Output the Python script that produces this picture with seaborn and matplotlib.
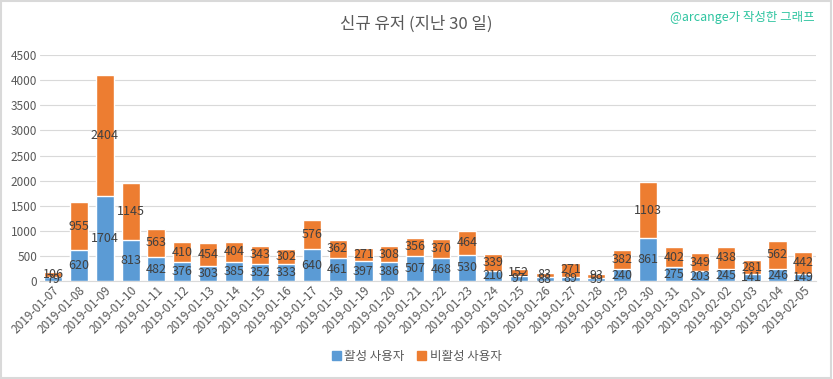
import pandas as pd
import numpy as np
import matplotlib
matplotlib.use("Agg")
import matplotlib.pyplot as plt
import seaborn as sns
from matplotlib.patches import Patch

dates = pd.date_range("2019-01-07", "2019-02-05").strftime("%Y-%m-%d").tolist()
active = [79, 620, 1704, 813, 482, 376, 303, 385, 352, 333, 640, 461, 397, 386, 507,
          468, 530, 210, 97, 88, 89, 59, 240, 861, 275, 203, 245, 141, 246, 149]
inactive = [106, 955, 2404, 1145, 563, 410, 454, 404, 343, 302, 576, 362, 271, 308, 356,
            370, 464, 339, 152, 83, 271, 93, 382, 1103, 402, 349, 438, 281, 562, 442]

BLUE = "#5B9BD5"
ORANGE = "#ED7D31"
TXT = "#404040"


def main():
    sns.set_style("white")
    plt.rcParams['font.family'] = ['Noto Sans CJK KR', 'DejaVu Sans']

    df = pd.DataFrame({'date': dates, 'active': active, 'inactive': inactive})
    df['total'] = df['active'] + df['inactive']

    fig = plt.figure(figsize=(8.33, 3.79), dpi=100)
    ax = fig.add_axes([0.048, 0.258, 0.932, 0.597])

    sns.barplot(data=df, x='date', y='total', color=ORANGE, width=0.7,
                saturation=1, ax=ax, zorder=2)
    sns.barplot(data=df, x='date', y='active', color=BLUE, width=0.7,
                saturation=1, ax=ax, zorder=3)

    for i, (a, b) in enumerate(zip(active, inactive)):
        ax.text(i, a / 2, str(a), ha='center', va='center', fontsize=9, color=TXT, zorder=4)
        ax.text(i, a + b / 2, str(b), ha='center', va='center', fontsize=9, color=TXT, zorder=4)

    ax.set_ylim(0, 4500)
    ax.set_yticks(range(0, 4501, 500))
    ax.set_xlim(-0.5, len(dates) - 0.5)
    ax.yaxis.grid(True, color="#D9D9D9", linewidth=0.8, zorder=0)
    ax.set_axisbelow(True)
    for s in ['top', 'right', 'left']:
        ax.spines[s].set_visible(False)
    ax.spines['bottom'].set_color("#D9D9D9")
    ax.tick_params(axis='both', length=0, labelsize=8.5, colors="#595959", pad=2)
    ax.set_xticks(range(len(dates)))
    ax.set_xticklabels(dates, rotation=45, ha='right', rotation_mode='anchor')
    ax.set_xlabel('')
    ax.set_ylabel('')

    fig.text(0.5, 0.935, "신규 유저 (지난 30 일)", ha='center', va='center',
             fontsize=12, color="#595959")
    fig.text(0.978, 0.955, "@arcange가 작성한 그래프", ha='right', va='center',
             fontsize=9, color="#2EC4A0")

    handles = [Patch(color=BLUE, label="활성 사용자"), Patch(color=ORANGE, label="비활성 사용자")]
    fig.legend(handles=handles, loc='center', bbox_to_anchor=(0.5, 0.06), ncol=2,
               frameon=False, fontsize=9, handlelength=0.7, handleheight=0.7,
               handletextpad=0.3, columnspacing=1.0, labelcolor="#595959")

    border = plt.Rectangle((0.001, 0.002), 0.997, 0.995, transform=fig.transFigure,
                           fill=False, edgecolor="#D9D9D9", linewidth=1.5)
    fig.patches.append(border)

    fig.savefig("out.png", dpi=100)


main()
